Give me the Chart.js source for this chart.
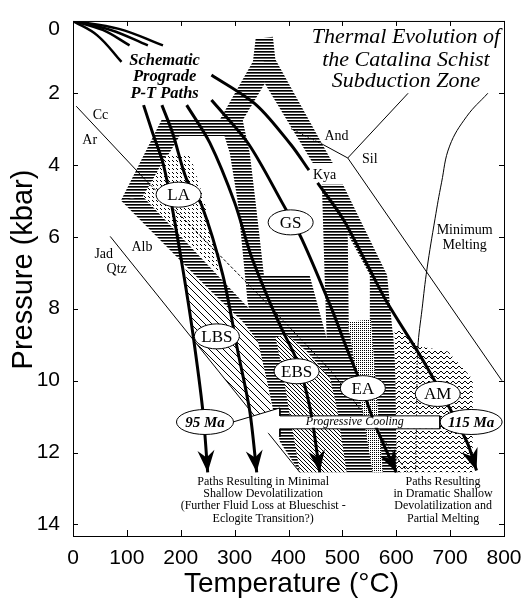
<!DOCTYPE html>
<html>
<head>
<meta charset="utf-8">
<title>Thermal Evolution of the Catalina Schist Subduction Zone</title>
<script src="https://cdn.jsdelivr.net/npm/chart.js@4.4.1/dist/chart.umd.min.js"></script>
<style>
  html, body { margin: 0; background: #fff; }
  canvas { display: block; }
</style>
</head>
<body>
<canvas id="ptChart" width="528" height="602"></canvas>
<script>
// labelled axis values
const tempTicks = [0, 100, 200, 300, 400, 500, 600, 700, 800];
const pressTicks = [0, 2, 4, 6, 8, 10, 12, 14];

// reaction boundaries, [T degC, P kbar]
const calciteAragonite = [[6, 2.37], [130, 4.35], [347, 7.65], [480, 9.75], [622, 12.55]];
const jadeiteQtzAlbite = [[69, 5.99], [421, 12.55]];
const andKya = [[405, 3.0], [462, 3.42], [510, 3.81]];
const andSil = [[510, 3.81], [622, 2.01]];
const kyaSil = [[510, 3.81], [796, 10.0]];
const minimumMelting = [[770, 2.01], [731, 2.65], [699, 3.48], [684, 4.5], [672, 5.5], [657, 6.9],
  [648, 8.0], [640, 9.1], [638, 10.6], [636, 12.55]];

// short paths fanning out of the origin
const fanPaths = [
  [[0, 0], [45, 0.4], [90, 1.14]],
  [[0, 0], [55, 0.25], [105, 0.68]],
  [[0, 0], [70, 0.25], [139, 0.68]],
  [[0, 0], [85, 0.22], [167, 0.68]]
];

// schematic prograde P-T paths (the fifth is broken where "Kya" sits)
const path1 = [[131, 2.34], [148, 3.12], [167, 3.95], [183, 5.1], [205, 7.0], [222, 8.64], [241, 10.84], [250, 12.55]];
const path2 = [[165, 2.34], [185, 3.12], [211, 4.41], [239, 5.13], [278, 7.06], [306, 9.19], [328, 10.84], [341, 12.55]];
const path3 = [[211, 2.34], [254, 3.39], [300, 5.05], [330, 6.5], [365, 7.81], [390, 8.64], [416, 9.46], [440, 10.76], [458, 12.55]];
const path4 = [[257, 2.2], [325, 3.4], [390, 5.1], [425, 6.07], [480, 8.0], [508, 9.1], [532, 10.0], [560, 11.2], [600, 12.55]];
const path5a = [[257, 1.5], [340, 2.33], [405, 3.45], [438, 4.15]];
const path5b = [[454, 4.5], [501, 5.5], [547, 6.8], [582, 7.8], [656, 9.6], [731, 11.7], [749, 12.5]];

// striped thermal-history bands
const stripeBands = [
  [[339, 0.50], [371, 0.44], [376, 1.13], [334, 1.13]],
  [[354, 1.08], [376, 1.08], [482, 3.95], [445, 3.95], [356, 1.74]],
  [[334, 1.13], [358, 1.13], [356, 1.74], [315, 2.76], [272, 2.76]],
  [[165, 2.73], [315, 2.73], [315, 3.20], [198, 3.20]],
  [[165, 2.73], [198, 2.73], [198, 3.20], [130, 4.88], [89, 4.99]],
  [[89, 4.99], [130, 4.88], [332, 8.08], [356, 8.64], [315, 8.41]],
  [[272, 2.76], [315, 2.76], [328, 3.67], [339, 5.05], [360, 7.81], [380, 8.91], [339, 8.91], [324, 7.81], [306, 5.05], [291, 3.67]],
  [[462, 4.55], [501, 4.55], [583, 7.06], [594, 8.77], [551, 8.77], [551, 7.06], [510, 5.93], [512, 8.77], [471, 8.86], [467, 7.06]],
  [[315, 8.36], [328, 7.95], [352, 7.06], [439, 7.06], [471, 8.83], [477, 8.64], [594, 8.64], [610, 12.55],
    [421, 12.55], [384, 11.70], [362, 10.15], [343, 8.91]]
];

// metamorphic fields
const fieldLA = [[174, 3.72], [217, 3.72], [241, 4.86], [259, 5.96], [272, 7.05], [130, 4.88]];
const fieldLBS = [[209, 6.85], [315, 8.36], [343, 8.91], [362, 10.15], [369, 10.84], [350, 11.23], [222, 8.83], [213, 7.81]];
const fieldEBS = [[376, 8.80], [397, 8.72], [434, 9.19], [477, 9.93], [490, 10.76], [508, 12.55], [421, 12.55], [402, 10.93], [389, 9.74]];
const fieldEA = [[510, 8.36], [553, 8.30], [575, 12.55], [556, 12.55]];
const fieldAM = [[597, 8.58], [610, 8.64], [644, 9.05], [696, 9.19], [742, 9.96], [742, 12.55], [601, 12.55]];

// cooling arrow from 115 Ma back to 95 Ma; the shaft is repainted over the paths
const coolingArrow = [[297, 11.15], [384, 10.76], [384, 10.98], [681, 10.98], [681, 11.34], [384, 11.34], [384, 11.56]];
const coolingShaft = [[390, 11.01], [679, 11.01], [679, 11.31], [390, 11.31]];

// annotation anchors
const fieldNames = ['LA', 'GS', 'LBS', 'EBS', 'EA', 'AM'];
const fieldAt = [[196, 4.83], [404, 5.6], [267, 8.77], [415, 9.74], [538, 10.21], [677, 10.37]];
const ages = ['95 Ma', '115 Ma'];
const ageAt = [[245, 11.15], [739, 11.15]];
const rxnLabels = ['Cc', 'Ar', 'Jad', 'Qtz', 'Alb', 'And', 'Sil', 'Kya'];
const rxnAt = [[51, 2.63], [31, 3.31], [57, 6.48], [81, 6.9], [128, 6.29], [489, 3.2], [551, 3.84], [467, 4.28]];

const textBlocks = [
  { lines: ['Thermal Evolution of', 'the Catalina Schist', 'Subduction Zone'], t: 618, p: [0.44, 1.10, 1.68],
    font: 'italic 22px "Liberation Serif"' },
  { lines: ['Schematic', 'Prograde', 'P-T Paths'], t: 170, p: [1.10, 1.55, 2.01],
    font: 'bold italic 16.5px "Liberation Serif"' },
  { lines: ['Minimum', 'Melting'], t: 727, p: [5.83, 6.24], font: '14px "Liberation Serif"' },
  { lines: ['Paths Resulting in Minimal', 'Shallow Devolatilization', '(Further Fluid Loss at Blueschist -', 'Eclogite Transition?)'],
    t: 353, p: [12.82, 13.14, 13.49, 13.83], font: '12px "Liberation Serif"' },
  { lines: ['Paths Resulting', 'in Dramatic Shallow', 'Devolatilization and', 'Partial Melting'],
    t: 687, p: [12.82, 13.14, 13.49, 13.83], font: '12px "Liberation Serif"' },
  { lines: ['Progressive Cooling'], t: 523, p: [11.15], font: 'italic 12px "Liberation Serif"' }
];

const canvas = document.getElementById('ptChart');

function makePattern(w, h, draw) {
  const c = document.createElement('canvas');
  c.width = w;
  c.height = h;
  const g = c.getContext('2d');
  g.fillStyle = '#fff';
  g.fillRect(0, 0, w, h);
  g.fillStyle = '#000';
  draw(g);
  return canvas.getContext('2d').createPattern(c, 'repeat');
}

const stripes = makePattern(1, 3, g => {
  g.fillRect(0, 0, 1, 1);
  g.fillStyle = '#5a5a5a';
  g.fillRect(0, 1, 1, 1);
});
const hatchWide = makePattern(7, 7, g => { for (let i = 0; i < 7; i++) g.fillRect(i, i, 1, 1); });
const hatchDense = makePattern(4, 4, g => { for (let i = 0; i < 4; i++) g.fillRect(i, i, 1, 1); });
const dashes = makePattern(4, 4, g => { g.fillRect(0, 0, 1, 1); g.fillRect(1, 1, 1, 1); });
const stipple = makePattern(2, 2, g => g.fillRect(0, 0, 1, 1));
const waves = makePattern(6, 5, g => {
  [[0, 3], [1, 2], [2, 1], [3, 1], [4, 2], [5, 3]].forEach(([a, b]) => g.fillRect(a, b, 1, 1));
});

const toXY = arr => arr.map(([t, p]) => ({ x: t, y: p }));

function area(points, fillStyle, order) {
  return { data: toXY(points), fill: 'shape', backgroundColor: fillStyle, borderWidth: 0,
    borderColor: 'transparent', tension: 0, order };
}

function curve(points, width, order, extra) {
  return Object.assign({ data: toXY(points), fill: false, borderColor: '#000', borderWidth: width,
    tension: 0.3, order }, extra || {});
}

const datasets = [];
stripeBands.forEach(b => datasets.push(area(b, stripes, 60)));
datasets.push(area(fieldLA, dashes, 50));
datasets.push(area(fieldLBS, hatchWide, 50));
datasets.push(area(fieldEBS, hatchDense, 50));
datasets.push(area(fieldEA, stipple, 50));
datasets.push(area(fieldAM, waves, 50));

datasets.push(curve(calciteAragonite, 1, 40, {
  tension: 0, segment: { borderDash: c => c.p0.parsed.x >= 125 ? [3, 2] : undefined } }));
datasets.push(curve(jadeiteQtzAlbite, 1, 40, { tension: 0 }));
datasets.push(curve(andKya, 1, 40, {
  tension: 0, segment: { borderDash: c => c.p0.parsed.x < 450 ? [1.5, 1.5] : undefined } }));
datasets.push(curve(andSil, 1, 40, { tension: 0 }));
datasets.push(curve(kyaSil, 1, 40, { tension: 0 }));
datasets.push(curve(minimumMelting, 1, 40, {
  tension: 0.4, segment: { borderDash: c => c.p0.parsed.y >= 9 ? [1.5, 1.5] : undefined } }));

datasets.push(Object.assign(area(coolingArrow, '#fff', 35), { borderColor: '#000', borderWidth: 1 }));

fanPaths.forEach(f => datasets.push(curve(f, 2.5, 30, { tension: 0.4 })));
[path1, path2, path3, path4, path5a, path5b].forEach(p => datasets.push(curve(p, 3, 30)));

datasets.push(area(coolingShaft, '#fff', 20));

const decor = {
  id: 'decor',
  afterDatasetsDraw(chart) {
    const { ctx, scales: { x, y } } = chart;
    const X = t => x.getPixelForValue(t);
    const Y = p => y.getPixelForValue(p);
    ctx.save();

    // barbed heads at the deep end of the paths
    ctx.fillStyle = '#000';
    [path1, path2, path3, path4, path5b].forEach(path => {
      const [t1, p1] = path[path.length - 2];
      const [t2, p2] = path[path.length - 1];
      const ex = X(t2), ey = Y(p2);
      let dx = ex - X(t1), dy = ey - Y(p1);
      const len = Math.hypot(dx, dy);
      dx /= len; dy /= len;
      const L = 22, W = 8.5, N = 15;
      ctx.beginPath();
      ctx.moveTo(ex, ey);
      ctx.lineTo(ex - L * dx - W * dy, ey - L * dy + W * dx);
      ctx.lineTo(ex - N * dx, ey - N * dy);
      ctx.lineTo(ex - L * dx + W * dy, ey - L * dy - W * dx);
      ctx.closePath();
      ctx.fill();
    });

    ctx.textAlign = 'center';
    ctx.textBaseline = 'middle';

    const oval = (label, [t, p], rx, font) => {
      const cx = X(t), cy = Y(p);
      ctx.beginPath();
      ctx.ellipse(cx, cy, rx, 12.5, 0, 0, Math.PI * 2);
      ctx.fillStyle = '#fff';
      ctx.fill();
      ctx.lineWidth = 1;
      ctx.strokeStyle = '#000';
      ctx.stroke();
      ctx.fillStyle = '#000';
      ctx.font = font;
      ctx.fillText(label, cx, cy + 1);
    };
    fieldNames.forEach((n, i) => oval(n, fieldAt[i], 22.5, '17px "Liberation Serif"'));
    ages.forEach((n, i) => oval(n, ageAt[i], i ? 31 : 28.5, 'bold italic 15px "Liberation Serif"'));

    ctx.fillStyle = '#000';
    ctx.font = '14px "Liberation Serif"';
    rxnLabels.forEach((n, i) => ctx.fillText(n, X(rxnAt[i][0]), Y(rxnAt[i][1])));

    textBlocks.forEach(b => {
      ctx.font = b.font;
      b.lines.forEach((line, i) => ctx.fillText(line, X(b.t), Y(b.p[i])));
    });
    ctx.restore();
  },
  afterDraw(chart) {
    const { ctx, chartArea: a, scales: { x, y } } = chart;
    ctx.save();
    ctx.strokeStyle = '#000';
    ctx.lineWidth = 1;
    ctx.strokeRect(a.left + 0.5, a.top + 0.5, a.right - a.left, a.bottom - a.top);

    // inward tick marks on all four sides
    ctx.beginPath();
    x.ticks.forEach(tk => {
      const px = Math.round(x.getPixelForValue(tk.value)) + 0.5;
      ctx.moveTo(px, a.bottom); ctx.lineTo(px, a.bottom - 6);
      ctx.moveTo(px, a.top); ctx.lineTo(px, a.top + 5);
    });
    y.ticks.filter(tk => Number.isInteger(tk.value)).forEach(tk => {
      const py = Math.round(y.getPixelForValue(tk.value)) + 0.5;
      ctx.moveTo(a.left, py); ctx.lineTo(a.left + 5, py);
      ctx.moveTo(a.right, py); ctx.lineTo(a.right - 5, py);
    });
    ctx.stroke();

    ctx.fillStyle = '#000';
    ctx.textAlign = 'center';
    ctx.textBaseline = 'middle';
    ctx.font = '29px "Liberation Sans"';
    ctx.save();
    ctx.translate(24, (a.top + a.bottom) / 2 - 9);
    ctx.rotate(-Math.PI / 2);
    ctx.fillText('Pressure (kbar)', 0, 0);
    ctx.restore();
    ctx.font = '28px "Liberation Sans"';
    ctx.fillText('Temperature (\u00B0C)', (a.left + a.right) / 2 + 3, a.bottom + 48);
    ctx.restore();
  }
};

new Chart(canvas, {
  type: 'line',
  data: { datasets },
  options: {
    responsive: false,
    animation: false,
    events: [],
    layout: { padding: { top: 17, right: 24, left: 0, bottom: 0 } },
    plugins: { legend: { display: false }, tooltip: { enabled: false } },
    elements: { point: { radius: 0, hoverRadius: 0 } },
    scales: {
      x: {
        type: 'linear', min: 0, max: 800,
        grid: { display: false }, border: { display: false },
        ticks: {
          stepSize: 50, autoSkip: false, maxRotation: 0, padding: 2, color: '#000',
          font: { family: 'Liberation Sans', size: 21 },
          callback: v => tempTicks.includes(v) ? String(v) : null
        },
        afterFit: s => { s.height = 66; }
      },
      y: {
        type: 'linear', min: 0, max: 14.32, reverse: true,
        grid: { display: false }, border: { display: false },
        ticks: {
          stepSize: 1, includeBounds: false, autoSkip: false, padding: 5, color: '#000',
          font: { family: 'Liberation Sans', size: 21, lineHeight: 0.76 },
          callback: v => pressTicks.includes(v) ? (v === 0 ? ['', '0'] : String(v)) : null
        },
        afterFit: s => { s.width = 73; }
      }
    }
  },
  plugins: [decor]
});
</script>
</body>
</html>
